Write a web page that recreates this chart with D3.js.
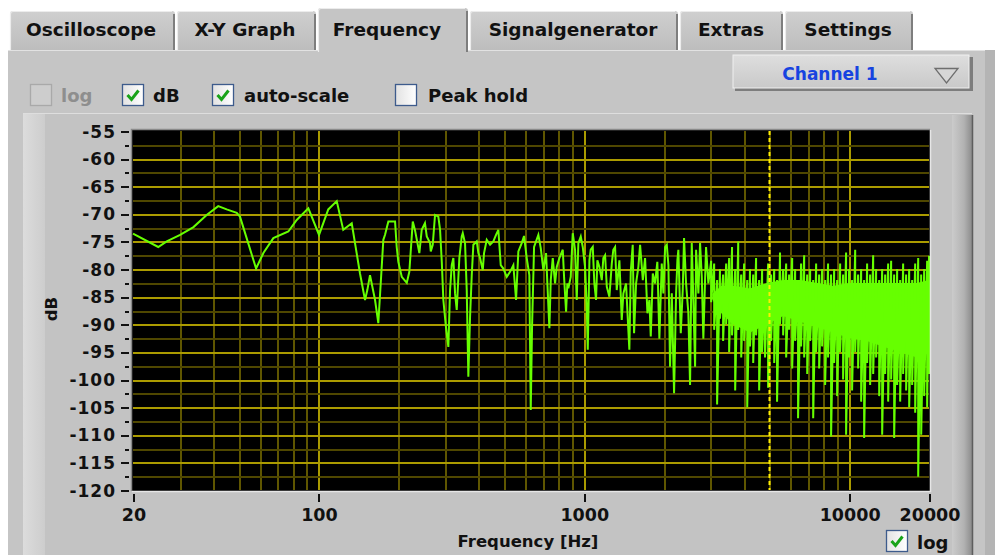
<!DOCTYPE html>
<html>
<head>
<meta charset="utf-8">
<script src="https://cdn.jsdelivr.net/npm/d3@7"></script>
<style>
  html, body { margin: 0; padding: 0; background: #ffffff; overflow: hidden; }
  svg text { font-family: "DejaVu Sans", sans-serif; font-weight: bold; }
</style>
</head>
<body>
<div id="chart"></div>
<script>
// ---- data ----
const tabNames = ["Oscilloscope", "X-Y Graph", "Frequency", "Signalgenerator", "Extras", "Settings"];
const activeTab = "Frequency";
const channelName = "Channel 1";

const yTickValues = [-55, -60, -65, -70, -75, -80, -85, -90, -95, -100, -105, -110, -115, -120];
const xTickValues = [20, 100, 1000, 10000, 20000];
const cursorHz = 5000;

// sparse part of the spectrum (polyline)
const sweepHz = [20, 24.9, 26.8, 30.1, 33.8, 37.9, 41.9, 45.1, 49.2, 50.6, 58.2, 62, 67.6, 77, 82.8, 91.6, 100.5, 108.9, 117.2, 124,
  133.5, 143.4, 149.8, 152.8, 156.4, 163.4, 168.1, 175.6, 178.2, 183.4, 194.4, 197.2, 200, 206, 215.2, 220, 226.7, 231, 240, 245,
  252, 256, 263.4,
  265, 269.6, 275, 283, 287.3, 291.6, 295.6, 302.6, 308.7, 313.3, 317.9, 322.4, 327.2, 332, 339.6, 346.7, 349.8, 356.8, 362.1, 367.2,
  372.7, 378.2, 383.5, 395, 400.6, 406.5, 416.1, 420.8, 430.7, 443.3, 456.1, 466.9, 476.4, 486.4, 497.5, 512.4, 527.3, 542.7, 555.5, 566.7,
  583.6, 595.4, 609.5, 623.4, 631, 638.3, 649.5, 674.2, 688.3, 704.1, 720.8, 729, 741.8, 750.8, 763.9, 779.3, 790.9, 809, 833.2, 842.6,
  857.4, 867.1,
  874.6, 893, 908.6, 926.9, 940.7, 953.9, 974, 991.1, 1011, 1026, 1035, 1050, 1062, 1081, 1096, 1112, 1125, 1145, 1169, 1185,
  1203, 1221, 1249, 1275, 1292, 1312, 1331, 1362, 1390, 1410, 1443, 1472, 1485, 1503, 1529, 1547, 1574, 1606, 1630, 1669,
  1702, 1737, 1767, 1788, 1820, 1856, 1893, 1927, 1967, 1995, 2025, 2055, 2084, 2114, 2146, 2189, 2228, 2253, 2272, 2320,
  2360, 2387, 2429, 2478, 2515, 2552, 2588, 2627, 2650, 2703, 2743, 2784, 2822, 2889, 2948];
const sweepDb = [-73.6, -76, -75, -73.8, -72.4, -70.2, -68.6, -69.2, -69.8, -70.5, -79.9, -77.1, -74.4, -73.2, -71.1, -69, -73.8, -69.2, -67.7, -72.9,
  -71.7, -80.8, -85.6, -83.8, -81.1, -85.6, -89.8, -74.7, -73.8, -71.4, -71.4, -76, -78.7, -81.4, -82.5, -80.5, -71.4, -72.9, -77.1, -72.9,
  -71.7, -74.1, -75.3,
  -76.8, -75.6, -70.2, -70.5, -72.9, -78.7, -85.6, -90.7, -94.1, -83.8, -79.3, -78, -84.4, -87.4, -78, -74.1, -73.5, -75.3, -83.8, -99.5,
  -88.6, -81.1, -75.6, -75, -77.1, -78, -80.2, -77.1, -74.7, -75.6, -75, -73.8, -72.9, -79.3, -79.9, -81.4, -80.5, -79.3, -85.6, -76.8,
  -75.3, -74, -78, -81.1, -105.5, -90.4, -76, -73.8, -76.2, -80.2, -77.1, -82.6, -90.7, -82, -78, -82.6, -79.6, -78, -76.5, -81.4,
  -87.7, -82.6,
  -83.5, -81.4, -73.5, -76.5, -85.6, -75.3, -74.1, -76, -79.6, -86.8, -94.6, -78.4, -76.5, -76, -82.6, -85.6, -78.4, -79.6, -82, -78,
  -77.5, -83.2, -85, -79, -76.5, -76, -83.8, -78.4, -89.2, -84.4, -82.6, -91, -94.6, -80.5, -75.6, -91.6, -82.6, -79.6, -75.6, -82,
  -78, -88, -85.6, -92.2, -80.8, -82.6, -78.7, -92.6, -79, -84.4, -76, -75.6, -79.3, -97.7, -84.4, -102.5, -84.4, -78.4, -76.5, -91.6,
  -83.8, -74.4, -82.6, -88, -101, -75.3, -85.6, -97.7, -76.5, -84.4, -75.3, -81.4, -92.6, -76, -82.6];

// dense part: max / min per display column
const noiseHz = [3020, 3100, 3180, 3260, 3350, 3440, 3530, 3620, 3720, 3820, 3920, 4020, 4130, 4230, 4350, 4460, 4580, 4700, 4820, 4950,
  5080, 5220, 5350, 5490, 5640, 5790, 5940, 6100, 6260, 6420, 6590, 6770, 6950, 7130, 7320, 7510, 7710, 7910, 8120, 8330,
  8550, 8780, 9010, 9250, 9490, 9740, 10000, 10260, 10540, 10810, 11100, 11390, 11690, 12000, 12320, 12640, 12980, 13320, 13670, 14030,
  14400, 14780, 15170, 15570, 15980, 16400, 16840, 17280, 17740, 18210, 18690, 19180, 19680, 20000];
const noiseTop = [-78.5, -79, -82, -80, -81, -79, -78, -76, -80, -75, -81, -79, -82, -80, -81, -78, -82, -80, -83, -79,
  -81, -80, -82, -77, -80, -79, -81, -78, -80, -82, -79, -77.5, -81, -80, -82, -79, -81, -80, -82, -79,
  -81, -80, -82, -79, -81, -77, -80, -82, -76.5, -81, -80, -82, -79, -81, -77.5, -80, -82, -80, -81, -79,
  -78.5, -81, -80, -82, -79, -81, -80, -82, -79, -78, -81, -80, -78.5, -77.6];
const noiseBottom = [-86, -91, -104.5, -89, -93, -90, -95, -92, -102, -91, -96, -93, -105, -94, -97, -92, -102, -95, -96, -101.5,
  -93, -97, -104, -90, -92, -96, -91, -98, -93, -107, -94, -96, -99, -93, -107, -95, -98, -94, -101, -96,
  -110.3, -97, -103, -95, -100, -110, -96, -102, -95, -98, -104, -110.6, -97, -101, -99, -96, -103, -110, -99, -104,
  -100, -110.6, -101, -104, -99, -102, -105, -101, -106, -117.6, -110, -103, -105, -99];

// solid noise floor band
const floorHz = [3050, 3300, 3650, 4230, 4900, 5640, 6530, 7570, 8700, 10000, 11700, 13400, 15600, 18000, 20000];
const floorTop = [-84.5, -83, -83, -83.5, -82.5, -82, -82, -82.5, -83, -82.5, -82.5, -82.5, -82.5, -82.5, -82];
const floorBottom = [-85.5, -88, -90, -91.5, -90, -88.5, -89.5, -90.5, -91.5, -92.5, -93, -94, -95, -96, -94];

// ---- layout ----
const W = 995, H = 555;
const plot = { left: 133, right: 929, top: 131, bottom: 490 };
const tabBoxes = [[10, 175], [177, 316], [318, 468], [470, 678], [680, 783], [785, 913]];
const tabTextX = [91, 245, 387, 573, 731, 848];

const svg = d3.select('#chart').append('svg')
  .attr('width', W).attr('height', H);

const defs = svg.append('defs');
function vGrad(id, stops) {
  const g = defs.append('linearGradient').attr('id', id).attr('x1', 0).attr('x2', 0).attr('y1', 0).attr('y2', 1);
  stops.forEach(s => g.append('stop').attr('offset', s[0]).attr('stop-color', s[1]));
}
function hGrad(id, stops) {
  const g = defs.append('linearGradient').attr('id', id).attr('x1', 0).attr('x2', 1).attr('y1', 0).attr('y2', 0);
  stops.forEach(s => g.append('stop').attr('offset', s[0]).attr('stop-color', s[1]));
}
vGrad('tabGrad', [[0, '#cfcfcf'], [1, '#bdbdbd']]);
vGrad('ddGrad', [[0, '#dedede'], [1, '#c9c9c9']]);
hGrad('boxGrad', [[0, '#e2e2e2'], [1, '#ffffff']]);
hGrad('rightGrad', [[0, '#cbcbcb'], [0.6, '#b2b2b2'], [1, '#8c8c8c']]);
hGrad('leftGrad', [[0, '#dcdcdc'], [1, '#cdcdcd']]);

// panel
svg.append('rect').attr('x', 8).attr('y', 50).attr('width', 977).attr('height', H - 50).attr('fill', '#c5c5c5');
svg.append('rect').attr('x', 985).attr('y', 50).attr('width', 10).attr('height', H - 50).attr('fill', '#b4b4b4');
svg.append('line').attr('x1', 8).attr('x2', 985).attr('y1', 50.5).attr('y2', 50.5).attr('stroke', '#e2e2e2');

// tabs
tabNames.forEach((name, i) => {
  const [x0, x1] = tabBoxes[i];
  const active = name === activeTab;
  const top = active ? 8 : 11;
  const bot = active ? 52 : 50;
  const g = svg.append('g');
  g.append('path')
    .attr('d', `M${x0},${bot} L${x0},${top + 3} Q${x0},${top} ${x0 + 3},${top} L${x1 - 3},${top} Q${x1},${top} ${x1},${top + 3} L${x1},${bot} Z`)
    .attr('fill', active ? '#c5c5c5' : 'url(#tabGrad)');
  g.append('path')
    .attr('d', `M${x0 + 0.5},${bot} L${x0 + 0.5},${top + 3} Q${x0 + 0.5},${top + 0.5} ${x0 + 3},${top + 0.5} L${x1 - 3},${top + 0.5}`)
    .attr('fill', 'none').attr('stroke', '#ececec').attr('stroke-width', 1.2);
  g.append('line').attr('x1', x1 - 1).attr('x2', x1 - 1).attr('y1', top + 3).attr('y2', bot)
    .attr('stroke', '#7e7e7e').attr('stroke-width', 2);
  g.append('text').attr('x', tabTextX[i]).attr('y', 36)
    .attr('text-anchor', 'middle').attr('font-size', 18.5).attr('fill', '#111')
    .text(name);
});

// checkboxes
function checkbox(x, y, checked, disabled) {
  const g = svg.append('g').attr('transform', `translate(${x},${y})`);
  g.append('rect').attr('x', 0.5).attr('y', 0.5).attr('width', 21).attr('height', 21)
    .attr('fill', disabled ? '#cdcdcd' : 'url(#boxGrad)')
    .attr('stroke', disabled ? '#a9a9a9' : '#3d5b8c').attr('stroke-width', 1.3);
  if (checked) {
    g.append('path').attr('d', 'M5.5,11 L9.5,15.5 L16.5,6.5')
      .attr('fill', 'none').attr('stroke', '#19a319').attr('stroke-width', 3)
      .attr('stroke-linejoin', 'miter');
  }
}
function label(x, y, txt, color) {
  svg.append('text').attr('x', x).attr('y', y).attr('font-size', 18).attr('fill', color || '#111').text(txt);
}
checkbox(30, 84, false, true); label(61, 102, 'log', '#8e8e8e');
checkbox(122, 84, true, false); label(153, 102, 'dB');
checkbox(212, 84, true, false); label(244, 102, 'auto-scale');
checkbox(395, 84, false, false); label(428, 102, 'Peak hold');

// channel dropdown
svg.append('rect').attr('x', 735).attr('y', 57).attr('width', 238).attr('height', 34).attr('fill', '#7d7d7d');
svg.append('rect').attr('x', 733).attr('y', 55).attr('width', 236).attr('height', 33).attr('fill', 'url(#ddGrad)')
  .attr('stroke', '#f0f0f0').attr('stroke-width', 1);
svg.append('text').attr('x', 830).attr('y', 80).attr('text-anchor', 'middle')
  .attr('font-size', 17).attr('fill', '#1743e0').text(channelName);
svg.append('path').attr('d', 'M935,68.5 L958,68.5 L946.5,83 Z')
  .attr('fill', '#d6d6d6').attr('stroke', '#6e6e6e').attr('stroke-width', 1.3);

// graph frame
svg.append('rect').attr('x', 23).attr('y', 113).attr('width', 950).attr('height', H - 113).attr('fill', '#c3c3c3');
svg.append('rect').attr('x', 23).attr('y', 113).attr('width', 22).attr('height', H - 113).attr('fill', 'url(#leftGrad)');
svg.append('rect').attr('x', 952).attr('y', 115).attr('width', 20).attr('height', H - 115).attr('fill', 'url(#rightGrad)');
svg.append('line').attr('x1', 972.5).attr('x2', 972.5).attr('y1', 115).attr('y2', H).attr('stroke', '#5e5e5e').attr('stroke-width', 1.5);
svg.append('line').attr('x1', 23).attr('x2', 972).attr('y1', 113.5).attr('y2', 113.5).attr('stroke', '#dedede');

// scales
const x = d3.scaleLog().domain([20, 20000]).range([plot.left, plot.right]);
const y = d3.scaleLinear().domain([-120, -55]).range([plot.bottom, plot.top]);

// plot background
svg.append('rect').attr('x', plot.left - 1).attr('y', plot.top - 1)
  .attr('width', plot.right - plot.left + 2).attr('height', plot.bottom - plot.top + 2).attr('fill', '#000');

const grid = svg.append('g').attr('shape-rendering', 'crispEdges');
// vertical grid: 2..9 multiples minor, decades major
const minorX = [];
[10, 100, 1000].forEach(dec => { for (let k = 2; k <= 9; k++) minorX.push(dec * k); });
grid.selectAll('.vminor').data(minorX.filter(f => f > 20 && f < 20000)).join('line')
  .attr('x1', d => Math.round(x(d)) + 0.5).attr('x2', d => Math.round(x(d)) + 0.5)
  .attr('y1', plot.top).attr('y2', plot.bottom).attr('stroke', '#5f5600').attr('stroke-width', 2);
grid.selectAll('.vmajor').data([100, 1000, 10000]).join('line')
  .attr('x1', d => Math.round(x(d)) + 0.5).attr('x2', d => Math.round(x(d)) + 0.5)
  .attr('y1', plot.top).attr('y2', plot.bottom).attr('stroke', '#a99a00').attr('stroke-width', 2);
// horizontal grid
const hMinor = yTickValues.slice(1).map(v => v + 2.5);
grid.selectAll('.hminor').data(hMinor).join('line')
  .attr('x1', plot.left).attr('x2', plot.right)
  .attr('y1', d => Math.round(y(d)) + 0.5).attr('y2', d => Math.round(y(d)) + 0.5)
  .attr('stroke', '#4f4700').attr('stroke-width', 2);
grid.selectAll('.hmajor').data(yTickValues.filter(v => v > -120 && v < -55)).join('line')
  .attr('x1', plot.left).attr('x2', plot.right)
  .attr('y1', d => Math.round(y(d)) + 0.5).attr('y2', d => Math.round(y(d)) + 0.5)
  .attr('stroke', '#ab9b00').attr('stroke-width', 2);

// spectrum
const green = '#66ff00';
const floorData = floorHz.map((f, i) => ({ f: f, top: floorTop[i], bot: floorBottom[i] }));
svg.append('path').datum(floorData)
  .attr('d', d3.area().x(d => x(d.f)).y0(d => y(d.bot)).y1(d => y(d.top)))
  .attr('fill', green);

const pts = sweepHz.map((f, i) => [f, sweepDb[i]]);
noiseHz.forEach((f, i) => { pts.push([f, noiseTop[i]]); pts.push([f, noiseBottom[i]]); });
svg.append('path').datum(pts)
  .attr('d', d3.line().x(d => x(d[0])).y(d => y(d[1])))
  .attr('fill', 'none').attr('stroke', green).attr('stroke-width', 2).attr('stroke-linejoin', 'miter');

// cursor
svg.append('line').attr('x1', Math.round(x(cursorHz)) + 0.5).attr('x2', Math.round(x(cursorHz)) + 0.5)
  .attr('y1', plot.top).attr('y2', plot.bottom)
  .attr('stroke', '#ffee00').attr('stroke-width', 2).attr('stroke-dasharray', '4,3');

// plot border
svg.append('path').attr('d', `M${plot.left - 1.5},${plot.bottom + 1} L${plot.left - 1.5},${plot.top - 1.5} L${plot.right + 1},${plot.top - 1.5}`)
  .attr('fill', 'none').attr('stroke', '#8a8a8a').attr('stroke-width', 1.5);
svg.append('path').attr('d', `M${plot.right + 1.5},${plot.top - 1} L${plot.right + 1.5},${plot.bottom + 1.5} L${plot.left - 1},${plot.bottom + 1.5}`)
  .attr('fill', 'none').attr('stroke', '#e6e6e6').attr('stroke-width', 1.5);

// y axis ticks and labels
const axis = svg.append('g').attr('shape-rendering', 'crispEdges');
axis.selectAll('.ytick').data(yTickValues).join('line')
  .attr('x1', 121).attr('x2', 129)
  .attr('y1', d => Math.round(y(d)) + 0.5).attr('y2', d => Math.round(y(d)) + 0.5)
  .attr('stroke', '#111').attr('stroke-width', 2);
axis.selectAll('.ytickm').data(hMinor).join('line')
  .attr('x1', 125).attr('x2', 129)
  .attr('y1', d => Math.round(y(d)) + 0.5).attr('y2', d => Math.round(y(d)) + 0.5)
  .attr('stroke', '#111').attr('stroke-width', 2);
svg.selectAll('.ylab').data(yTickValues).join('text')
  .attr('x', 116).attr('y', d => y(d) + 6.5)
  .attr('text-anchor', 'end').attr('font-size', 17).attr('letter-spacing', 1).attr('fill', '#111')
  .text(d => String(d));

// x axis ticks and labels
axis.selectAll('.xtick').data(xTickValues).join('line')
  .attr('x1', d => Math.round(x(d)) + 0.5).attr('x2', d => Math.round(x(d)) + 0.5)
  .attr('y1', 494).attr('y2', 502)
  .attr('stroke', '#111').attr('stroke-width', 2);
svg.selectAll('.xlab').data(xTickValues).join('text')
  .attr('x', d => x(d) + 1).attr('y', 521)
  .attr('text-anchor', 'middle').attr('font-size', 17.5).attr('fill', '#111')
  .text(d => d);

// axis titles
svg.append('text').attr('x', 528).attr('y', 547).attr('text-anchor', 'middle')
  .attr('font-size', 16.5).attr('fill', '#111').text('Frequency [Hz]');
svg.append('text').attr('transform', 'translate(57,309) rotate(-90)')
  .attr('text-anchor', 'middle').attr('font-size', 16.5).attr('fill', '#111').text('dB');

// log checkbox under the graph
checkbox(886, 530, true, false);
label(917, 549, 'log');
</script>
</body>
</html>
